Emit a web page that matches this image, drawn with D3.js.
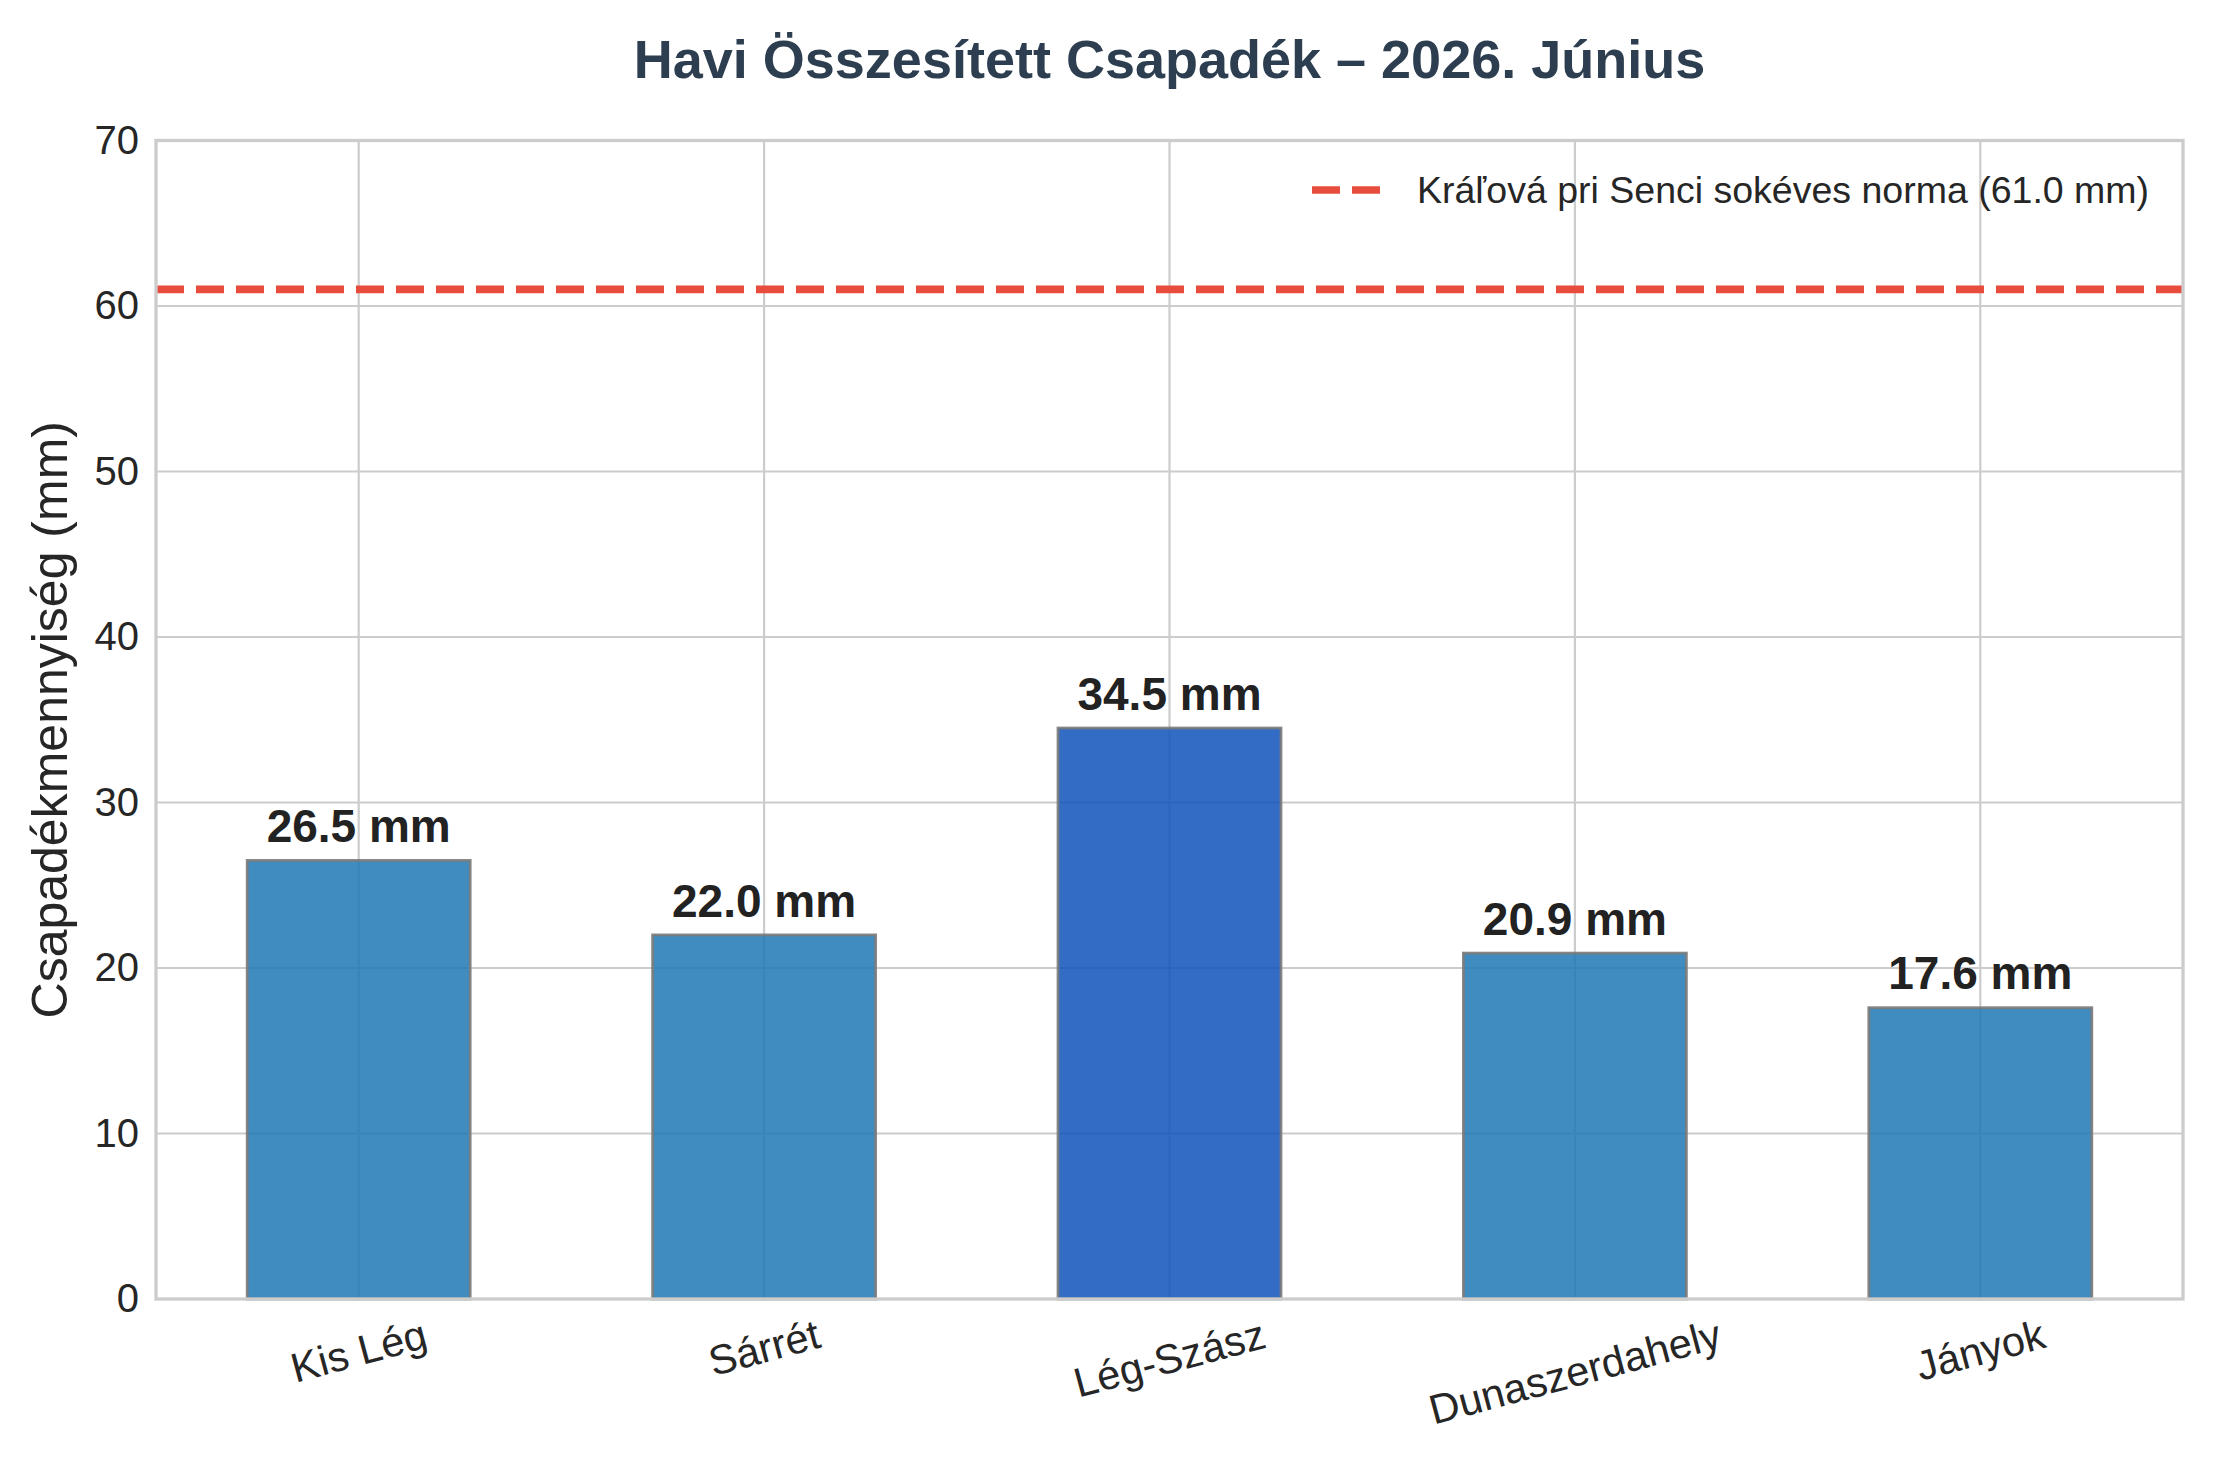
<!DOCTYPE html>
<html>
<head>
<meta charset="utf-8">
<script src="https://cdn.jsdelivr.net/npm/d3@7"></script>
<style>
  html, body { margin: 0; padding: 0; background: #ffffff; }
  svg { display: block; font-family: "Liberation Sans", Arial, Helvetica, sans-serif; }
</style>
</head>
<body>
<svg id="chart" width="2213" height="1459"></svg>
<script>
// ---- data ----
const categories = ["Kis Lég", "Sárrét", "Lég-Szász", "Dunaszerdahely", "Jányok"];
const values = [26.5, 22.0, 34.5, 20.9, 17.6];
const highlightIndex = 2;
const normValue = 61.0;
const normLabel = "Kráľová pri Senci sokéves norma (61.0 mm)";
const yTicks = [0, 10, 20, 30, 40, 50, 60, 70];
const titleText = "Havi Összesített Csapadék – 2026. Június";
const yLabelText = "Csapadékmennyiség (mm)";

// ---- layout ----
const W = 2213, H = 1459;
const plot = { left: 156, right: 2183, top: 140.5, bottom: 1299 };
const svg = d3.select("#chart");

const x = d3.scaleLinear().domain([-0.5, categories.length - 0.5]).range([plot.left, plot.right]);
const y = d3.scaleLinear().domain([0, 70]).range([plot.bottom, plot.top]);
const barW = 0.55;

const gridColor = "#cccccc";
const textColor = "#262626";

// grid
const grid = svg.append("g");
grid.selectAll("line.h").data(yTicks).enter().append("line")
  .attr("x1", plot.left).attr("x2", plot.right)
  .attr("y1", d => y(d)).attr("y2", d => y(d))
  .attr("stroke", gridColor).attr("stroke-width", 2.2);
grid.selectAll("line.v").data(categories).enter().append("line")
  .attr("x1", (d, i) => x(i)).attr("x2", (d, i) => x(i))
  .attr("y1", plot.top).attr("y2", plot.bottom)
  .attr("stroke", gridColor).attr("stroke-width", 2.2);

// bars
svg.append("g").selectAll("rect").data(values).enter().append("rect")
  .attr("x", (d, i) => x(i - barW / 2))
  .attr("width", (d, i) => x(i + barW / 2) - x(i - barW / 2))
  .attr("y", d => y(d))
  .attr("height", d => y(0) - y(d))
  .attr("fill", (d, i) => i === highlightIndex ? "#0e52ba" : "#1f77b4")
  .attr("fill-opacity", 0.85)
  .attr("stroke", "#7a7a7a")
  .attr("stroke-opacity", 0.9)
  .attr("stroke-width", 2.8);

// norm line
svg.append("line")
  .attr("x1", plot.left).attr("x2", plot.right)
  .attr("y1", y(normValue)).attr("y2", y(normValue))
  .attr("stroke", "#e74c3c").attr("stroke-width", 7.7)
  .attr("stroke-dasharray", "28,12");

// value labels
svg.append("g").selectAll("text").data(values).enter().append("text")
  .attr("x", (d, i) => x(i))
  .attr("y", d => y(d + 0.5) - 10)
  .attr("text-anchor", "middle")
  .attr("font-size", 46)
  .attr("font-weight", "bold")
  .attr("fill", "#222222")
  .text(d => d.toFixed(1) + " mm");

// spines
svg.append("rect")
  .attr("x", plot.left).attr("y", plot.top)
  .attr("width", plot.right - plot.left).attr("height", plot.bottom - plot.top)
  .attr("fill", "none").attr("stroke", gridColor).attr("stroke-width", 3.3);

// y tick labels
const yAxis = d3.axisLeft(y).tickValues(yTicks).tickSize(0).tickPadding(17).tickFormat(d3.format("d"));
const yg = svg.append("g").attr("transform", `translate(${plot.left},0)`).call(yAxis);
yg.select(".domain").remove();
yg.selectAll("text").attr("font-size", 40).attr("fill", textColor)
  .attr("font-family", "'Liberation Sans', Arial, sans-serif");

// x tick labels (rotated 15deg, centered)
const angle = 15 * Math.PI / 180;
const xFont = 41.5;
const xl = svg.append("g").selectAll("text").data(categories).enter().append("text")
  .attr("text-anchor", "middle")
  .attr("dominant-baseline", "central")
  .attr("font-size", xFont)
  .attr("fill", textColor)
  .text(d => d);
xl.each(function(d, i) {
  const w = this.getComputedTextLength();
  const h = xFont * 1.15;
  const bh = w * Math.sin(angle) + h * Math.cos(angle);
  const cy = plot.bottom + 11 + bh / 2;
  d3.select(this).attr("transform", `translate(${x(i)},${cy}) rotate(-15)`);
});

// y label
svg.append("text")
  .attr("transform", `translate(50,${(plot.top + plot.bottom) / 2}) rotate(-90)`)
  .attr("text-anchor", "middle")
  .attr("dominant-baseline", "central")
  .attr("font-size", 50)
  .attr("fill", textColor)
  .text(yLabelText);

// title
svg.append("text")
  .attr("x", (plot.left + plot.right) / 2)
  .attr("y", 78)
  .attr("text-anchor", "middle")
  .attr("font-size", 54)
  .attr("font-weight", "bold")
  .attr("fill", "#2c3e50")
  .text(titleText);

// legend
const lg = svg.append("g");
lg.append("line")
  .attr("x1", 1312).attr("x2", 1380).attr("y1", 190).attr("y2", 190)
  .attr("stroke", "#e74c3c").attr("stroke-width", 7.7)
  .attr("stroke-dasharray", "28,12");
lg.append("text")
  .attr("x", 1417).attr("y", 190)
  .attr("dominant-baseline", "central")
  .attr("font-size", 37.5)
  .attr("fill", textColor)
  .text(normLabel);
</script>
</body>
</html>
